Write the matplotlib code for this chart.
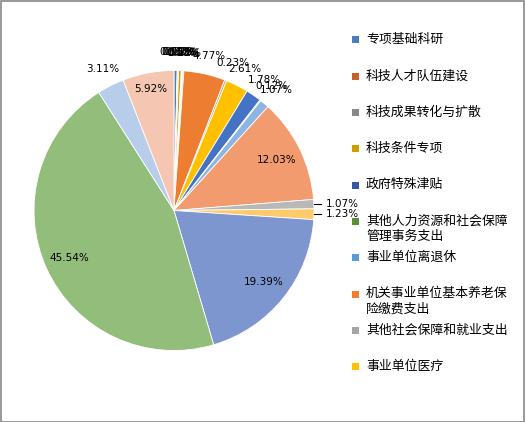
import numpy as np
import matplotlib
matplotlib.use("Agg")
import matplotlib.pyplot as plt
from matplotlib.patches import Rectangle

plt.rcParams['font.family'] = ['Noto Sans CJK SC', 'DejaVu Sans']

# shares in percent, clockwise from 12 o'clock
values = [0.36, 0.05, 0.12, 0.30, 0.10, 0.08, 0.12,
          4.77, 0.23, 2.61, 1.78, 0.12, 1.07, 12.03,
          1.07, 1.23, 19.39, 45.54, 3.11, 5.92]

# only the first ten show up in the legend of the original
legend_names = ['专项基础科研', '科技人才队伍建设', '科技成果转化与扩散',
                '科技条件专项', '政府特殊津贴',
                '其他人力资源和社会保障\n管理事务支出', '事业单位离退休',
                '机关事业单位基本养老保\n险缴费支出', '其他社会保障和就业支出',
                '事业单位医疗']

colors = ['#4A7EBB', '#C0622B', '#888888', '#C9A000', '#3558A0', '#5A8E3C',
          '#5B9BD5', '#ED7D31', '#A5A5A5', '#FFC000', '#4472C4', '#70AD47',
          '#8EB4E3', '#F19B6F', '#B8B8B8', '#FFCA6A', '#7E96D0', '#93BD7B',
          '#B7CDE9', '#F5C6B2']

W, H = 525, 422
fig = plt.figure(figsize=(W / 100, H / 100), dpi=100)

cx, cy, r = 174, 210.5, 140
ax = fig.add_axes([(cx - r) / W, (H - cy - r) / H, 2 * r / W, 2 * r / H])

wedges, _ = ax.pie(values, colors=colors, startangle=90, counterclock=False,
                   radius=1, wedgeprops=dict(edgecolor='white', linewidth=0.6))
ax.set_xlim(-1, 1)
ax.set_ylim(-1, 1)
ax.set_aspect('auto')
ax.axis('off')

inside = {13: 0.82, 16: 0.82, 17: 0.82, 19: 0.88}
leader = {14, 15}

for i, w in enumerate(wedges):
    mid = np.deg2rad((w.theta1 + w.theta2) / 2)
    txt = f"{values[i]:.2f}%"
    if i in inside:
        d = inside[i]
        ax.text(d * np.cos(mid), d * np.sin(mid), txt, ha='center', va='center',
                fontsize=7.5, family='DejaVu Sans')
    elif i in leader:
        y = np.sin(mid)
        ax.plot([1.0, 1.05], [y, y], color='black', lw=0.8, clip_on=False)
        ax.text(1.085, y, txt, ha='left', va='center', fontsize=7.5,
                family='DejaVu Sans')
    else:
        d = 1.13
        ax.text(d * np.cos(mid), d * np.sin(mid), txt, ha='center', va='center',
                fontsize=7.5, family='DejaVu Sans')

# legend drawn by hand to follow the original spacing
for k, name in enumerate(legend_names):
    ypix = 40 + 36.3 * k
    yf = 1 - ypix / H
    fig.patches.append(Rectangle((352 / W, yf - 3.5 / H), 7 / W, 7 / H,
                                 transform=fig.transFigure,
                                 facecolor=wedges[k].get_facecolor(),
                                 edgecolor='none'))
    fig.text(366 / W, 1 - (ypix - 7) / H, name, ha='left', va='top',
             fontsize=9.3, linespacing=1.25)

fig.patches.append(Rectangle((0.5 / W, 0.5 / H), 1 - 1.5 / W, 1 - 1.5 / H,
                             transform=fig.transFigure, fill=False,
                             edgecolor='#888888', linewidth=1.2))

fig.savefig('out.png', dpi=100)
